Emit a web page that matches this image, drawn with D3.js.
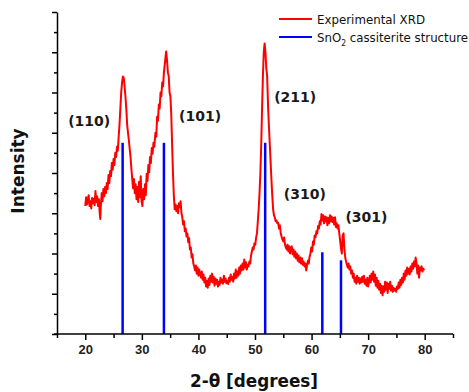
<!DOCTYPE html>
<html>
<head>
<meta charset="utf-8">
<script src="https://cdn.jsdelivr.net/npm/d3@7"></script>
<style>
  html, body { margin: 0; padding: 0; background: #fff; }
  svg { display: block; }
</style>
</head>
<body>
<div id="chart"></div>
<script>
// ---- Data (2-theta in degrees, intensity in arbitrary units)
const xrdAngle = [
  20.00, 20.15, 20.30, 20.45, 20.60, 20.75, 20.90, 21.05, 21.20, 21.35, 21.50, 21.65, 21.80, 21.95, 22.10, 22.25,
  22.40, 22.55, 22.65, 22.75, 22.90, 23.05, 23.20, 23.35, 23.50, 23.65, 23.80, 23.95, 24.10, 24.25, 24.40, 24.55,
  24.70, 24.85, 25.00, 25.15, 25.30, 25.45, 25.60, 25.75, 25.90, 26.05, 26.20, 26.35, 26.50, 26.65, 26.80, 26.95,
  27.10, 27.25, 27.40, 27.55, 27.70, 27.85, 28.00, 28.15, 28.30, 28.45, 28.60, 28.75, 28.90, 29.05, 29.20, 29.35,
  29.50, 29.65, 29.80, 29.95, 30.10, 30.25, 30.40, 30.55, 30.70, 30.85, 31.00, 31.15, 31.30, 31.45, 31.60, 31.75,
  31.90, 32.05, 32.20, 32.40, 32.55, 32.70, 32.85, 33.00, 33.15, 33.30, 33.45, 33.60, 33.75, 33.90, 34.05, 34.20,
  34.30, 34.45, 34.60, 34.75, 34.90, 35.05, 35.20, 35.35, 35.50, 35.65, 35.80, 35.95, 36.10, 36.25, 36.40, 36.55,
  36.70, 36.85, 37.00, 37.15, 37.30, 37.45, 37.60, 37.75, 37.90, 38.05, 38.20, 38.35, 38.50, 38.65, 38.80, 38.95,
  39.10, 39.25, 39.40, 39.55, 39.70, 39.85, 40.00, 40.15, 40.30, 40.45, 40.60, 40.75, 40.90, 41.05, 41.20, 41.35,
  41.50, 41.65, 41.80, 41.95, 42.10, 42.25, 42.40, 42.55, 42.70, 42.85, 43.00, 43.15, 43.30, 43.45, 43.60, 43.75,
  43.90, 44.05, 44.20, 44.35, 44.50, 44.65, 44.80, 44.95, 45.10, 45.25, 45.40, 45.55, 45.70, 45.85, 46.00, 46.15,
  46.30, 46.45, 46.60, 46.75, 46.90, 47.05, 47.20, 47.35, 47.50, 47.65, 47.80, 47.95, 48.10, 48.25, 48.40, 48.55,
  48.70, 48.85, 49.00, 49.15, 49.30, 49.45, 49.60, 49.75, 49.90, 50.05, 50.20, 50.35, 50.50, 50.65, 50.80, 50.95,
  51.10, 51.25, 51.40, 51.55, 51.70, 51.85, 52.00, 52.15, 52.30, 52.45, 52.60, 52.75, 52.90, 53.05, 53.20, 53.35,
  53.50, 53.65, 53.80, 53.95, 54.10, 54.25, 54.40, 54.55, 54.70, 54.85, 55.00, 55.15, 55.30, 55.45, 55.60, 55.75,
  55.90, 56.05, 56.20, 56.35, 56.50, 56.65, 56.80, 56.95, 57.10, 57.25, 57.40, 57.55, 57.70, 57.85, 58.00, 58.15,
  58.30, 58.45, 58.60, 58.75, 58.90, 59.05, 59.20, 59.35, 59.50, 59.65, 59.80, 59.95, 60.10, 60.25, 60.40, 60.55,
  60.70, 60.85, 61.00, 61.15, 61.30, 61.45, 61.60, 61.75, 61.90, 62.05, 62.20, 62.35, 62.50, 62.65, 62.80, 62.95,
  63.10, 63.25, 63.40, 63.55, 63.70, 63.85, 64.00, 64.15, 64.30, 64.45, 64.60, 64.75, 64.90, 65.05, 65.20, 65.35,
  65.50, 65.65, 65.80, 65.95, 66.10, 66.25, 66.40, 66.55, 66.70, 66.85, 67.00, 67.15, 67.30, 67.45, 67.60, 67.75,
  67.90, 68.05, 68.20, 68.35, 68.50, 68.65, 68.80, 68.95, 69.10, 69.25, 69.40, 69.55, 69.70, 69.85, 70.00, 70.15,
  70.30, 70.45, 70.60, 70.75, 70.90, 71.05, 71.20, 71.35, 71.50, 71.65, 71.80, 71.95, 72.10, 72.25, 72.40, 72.55,
  72.70, 72.85, 73.00, 73.15, 73.30, 73.45, 73.60, 73.75, 73.90, 74.05, 74.20, 74.35, 74.50, 74.65, 74.80, 74.95,
  75.10, 75.25, 75.40, 75.55, 75.70, 75.85, 76.00, 76.15, 76.30, 76.45, 76.60, 76.75, 76.90, 77.05, 77.20, 77.35,
  77.50, 77.65, 77.80, 77.95, 78.10, 78.25, 78.40, 78.55, 78.70, 78.85, 79.00, 79.15, 79.30, 79.45, 79.60, 79.75,
  79.90, 80.00
];
const xrdCounts = [
  318, 340, 322, 333, 345, 318, 330, 312, 338, 325, 336, 320, 355, 328, 342, 318,
  335, 300, 286, 318, 350, 330, 360, 342, 365, 350, 375, 360, 395, 375, 405, 392,
  425, 408, 435, 420, 450, 440, 465, 455, 490, 520, 560, 600, 625, 640, 636, 615,
  590, 560, 520, 500, 482, 460, 440, 410, 385, 362, 385, 350, 372, 335, 365, 328,
  378, 340, 392, 330, 318, 360, 335, 372, 345, 398, 380, 420, 402, 440, 425, 462,
  448, 475, 465, 500, 490, 540, 530, 570, 560, 600, 590, 625, 615, 650, 670, 690,
  702, 680, 650, 640, 600, 590, 545, 470, 400, 345, 310, 322, 305, 318, 300, 325,
  315, 330, 300, 290, 272, 280, 255, 262, 242, 250, 228, 238, 210, 215, 190, 198,
  175, 168, 158, 170, 150, 165, 145, 160, 150, 140, 155, 135, 148, 128, 140, 118,
  132, 115, 138, 122, 145, 130, 150, 128, 142, 120, 138, 125, 135, 118, 130, 122,
  140, 128, 135, 125, 145, 130, 138, 126, 132, 124, 140, 130, 148, 135, 142, 130,
  150, 138, 160, 140, 155, 145, 165, 150, 170, 158, 175, 160, 185, 165, 178, 160,
  172, 168, 180, 175, 195, 205, 215, 210, 225, 222, 240, 250, 280, 310, 350, 400,
  470, 560, 640, 700, 722, 700, 660, 640, 570, 520, 475, 430, 385, 345, 310, 295,
  290, 280, 282, 275, 276, 262, 270, 250, 242, 235, 230, 240, 222, 215, 210, 222,
  205, 218, 200, 215, 218, 198, 210, 192, 205, 188, 200, 182, 195, 178, 190, 175,
  188, 172, 180, 168, 175, 158, 170, 182, 175, 192, 200, 215, 205, 230, 222, 245,
  240, 255, 250, 268, 262, 280, 272, 298, 282, 295, 275, 292, 280, 290, 270, 288,
  275, 295, 280, 292, 278, 288, 272, 290, 266, 275, 262, 270, 250, 232, 212, 200,
  245, 250, 212, 190, 180, 172, 165, 175, 160, 168, 150, 158, 140, 150, 130, 140,
  125, 145, 130, 140, 125, 138, 128, 142, 130, 145, 125, 135, 120, 140, 118, 130,
  145, 128, 150, 135, 155, 130, 148, 120, 140, 115, 132, 110, 125, 102, 120, 96,
  118, 105, 130, 110, 128, 102, 125, 112, 130, 108, 120, 105, 115, 108, 112, 105,
  118, 112, 128, 115, 135, 122, 140, 128, 150, 135, 158, 145, 165, 150, 162, 148,
  168, 155, 175, 162, 180, 168, 190, 175, 150, 170, 140, 165, 158, 168, 155, 162,
  158
];

// SnO2 cassiterite reference reflections
const refAngle  = [26.6, 33.9, 51.8, 61.9, 65.2];
const refHeight = [475, 475, 475, 203, 183];

// Peak annotations (hkl) and their anchor positions in data units
const hklLabel = ['(110)', '(101)', '(211)', '(310)', '(301)'];
const hklAngle = [20.7, 40.3, 57.1, 58.8, 69.7];
const hklLevel = [518, 528, 576, 335, 278];

const xTicks = [20, 30, 40, 50, 60, 70, 80];
const xMinorTicks = [15, 25, 35, 45, 55, 65, 75, 85];
const yTicks = [0, 100, 200, 300, 400, 500, 600, 700, 800];
const yMinorTicks = [50, 150, 250, 350, 450, 550, 650, 750];

const legendNames = ['Experimental XRD', 'SnO2 cassiterite structure'];
const legendColors = ['#ff0000', '#0000ff'];

// ---- Layout
const width = 469, height = 392;
const margins = { left: 57, right: 16, top: 12, bottom: 58 };
const plotW = width - margins.left - margins.right;
const plotH = height - margins.top - margins.bottom;

const svg = d3.select('#chart').append('svg')
  .attr('width', width).attr('height', height)
  .style('background', '#fff');

// ---- Scales
const mapX = d3.scaleLinear().domain([15, 85]).range([0, plotW]);
const mapY = d3.scaleLinear().domain([0, 800]).range([plotH, 0]);

const g = svg.append('g').attr('transform', `translate(${margins.left},${margins.top})`);

// ---- Reference sticks
g.selectAll('.ref').data(refAngle).join('line')
  .attr('class', 'ref')
  .attr('x1', d => mapX(d)).attr('x2', d => mapX(d))
  .attr('y1', mapY(0)).attr('y2', (d, i) => mapY(refHeight[i]))
  .attr('stroke', '#0000ff').attr('stroke-width', 2.5);

// ---- Experimental pattern
const points = xrdAngle.map((a, i) => [a, xrdCounts[i]]);
g.append('path')
  .datum(points)
  .attr('fill', 'none')
  .attr('stroke', '#ff0000')
  .attr('stroke-width', 2)
  .attr('stroke-linejoin', 'round')
  .attr('d', d3.line().x(d => mapX(d[0])).y(d => mapY(d[1])));

// ---- Axes
const xAxis = g.append('g').attr('transform', `translate(0,${plotH})`);
xAxis.call(d3.axisBottom(mapX).tickValues(xTicks).tickSize(6).tickSizeOuter(0).tickFormat(d3.format('d')));
xAxis.append('g').call(d3.axisBottom(mapX).tickValues(xMinorTicks).tickSize(4).tickSizeOuter(0).tickFormat(''))
  .select('.domain').remove();
xAxis.select('.domain').attr('d', `M${-3},0H${plotW}`);
xAxis.selectAll('.tick text')
  .attr('dy', '0.71em').attr('y', 11)
  .style('font-family', '"Liberation Sans", Arial, sans-serif')
  .style('font-weight', 'bold').style('font-size', '13px').attr('fill', '#222');

const yAxis = g.append('g');
yAxis.call(d3.axisLeft(mapY).tickValues(yTicks).tickSize(5).tickSizeOuter(0).tickFormat(''));
yAxis.append('g').call(d3.axisLeft(mapY).tickValues(yMinorTicks).tickSize(3).tickSizeOuter(0).tickFormat(''))
  .select('.domain').remove();

svg.selectAll('.domain, .tick line').attr('stroke', '#000').attr('stroke-width', 1.5);

// ---- Axis titles
svg.append('text')
  .attr('x', margins.left + plotW / 2 - 1).attr('y', 387)
  .attr('text-anchor', 'middle')
  .attr('textLength', 128).attr('lengthAdjust', 'spacingAndGlyphs')
  .style('font-family', '"DejaVu Sans", sans-serif').style('font-weight', 'bold').style('font-size', '17px')
  .attr('fill', '#111')
  .text('2-θ [degrees]');

svg.append('text')
  .attr('transform', 'translate(24,171) rotate(-90)')
  .attr('text-anchor', 'middle')
  .style('font-family', '"DejaVu Sans", sans-serif').style('font-weight', 'bold').style('font-size', '17px')
  .attr('fill', '#111')
  .text('Intensity');

// ---- hkl annotations
g.selectAll('.hkl').data(hklLabel).join('text')
  .attr('class', 'hkl')
  .attr('x', (d, i) => mapX(hklAngle[i])).attr('y', (d, i) => mapY(hklLevel[i]))
  .attr('text-anchor', 'middle')
  .style('font-family', '"DejaVu Sans", sans-serif').style('font-weight', 'bold').style('font-size', '14px')
  .attr('fill', '#1a1a1a')
  .text(d => d);

// ---- Legend
const legend = svg.append('g').attr('transform', 'translate(279,19)');
legendNames.forEach((name, i) => {
  const row = legend.append('g').attr('transform', `translate(0,${i * 18})`);
  row.append('line').attr('x1', 0).attr('x2', 33).attr('y1', 0).attr('y2', 0)
    .attr('stroke', legendColors[i]).attr('stroke-width', 2);
  const t = row.append('text').attr('x', 38).attr('y', 5)
    .style('font-family', '"DejaVu Sans Condensed", "DejaVu Sans", sans-serif').style('font-size', '12.5px')
    .attr('fill', '#111');
  if (name.startsWith('SnO2')) {
    t.attr('textLength', 151).attr('lengthAdjust', 'spacingAndGlyphs');
    t.append('tspan').text('SnO');
    t.append('tspan').attr('dy', 4).style('font-size', '8px').text('2');
    t.append('tspan').attr('dy', -4).text(name.slice(4));
  } else {
    t.attr('textLength', 108).attr('lengthAdjust', 'spacingAndGlyphs').text(name);
  }
});
</script>
</body>
</html>
